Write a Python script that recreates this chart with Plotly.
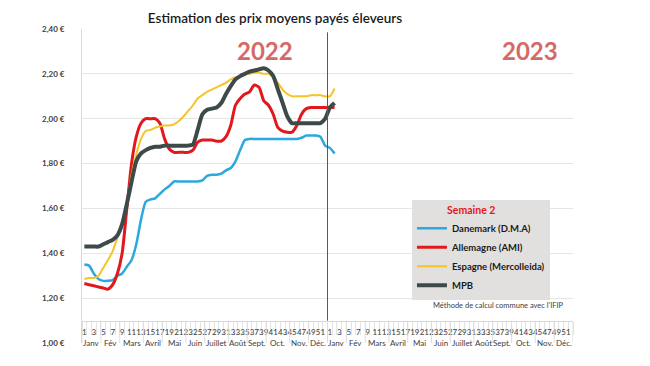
import plotly.graph_objects as go

# ---------------- data ----------------
years = ["2022", "2023"]
weeks_per_year = 52
month_names = ["Janv", "Fév", "Mars", "Avril", "Mai", "Juin", "Juillet", "Août",
               "Sept.", "Oct.", "Nov.", "Déc."]
month_weeks = [4, 4, 5, 4, 5, 4, 5, 4, 4, 5, 4, 4]

y_ticks = [1.00, 1.20, 1.40, 1.60, 1.80, 2.00, 2.20, 2.40]
y_tick_labels = ["1,00 €", "1,20 €", "1,40 €", "1,60 €", "1,80 €", "2,00 €", "2,20 €", "2,40 €"]

# weekly prices: 2022 weeks 1-52, then 2023 weeks 1-2
danemark = [1.35, 1.345, 1.31, 1.285, 1.277, 1.277, 1.28, 1.30, 1.31, 1.34,
            1.37, 1.44, 1.55, 1.63, 1.64, 1.645, 1.665, 1.685, 1.70, 1.72,
            1.72, 1.72, 1.72, 1.72, 1.72, 1.725, 1.745, 1.75, 1.75, 1.755,
            1.77, 1.78, 1.81, 1.86, 1.905, 1.91, 1.91, 1.91, 1.91, 1.91,
            1.91, 1.91, 1.91, 1.91, 1.91, 1.91, 1.915, 1.925, 1.925, 1.925,
            1.92, 1.88,
            1.87, 1.845]
allemagne = [1.265, 1.26, 1.255, 1.25, 1.245, 1.24, 1.26, 1.31, 1.40, 1.60,
             1.80, 1.92, 1.98, 2.00, 2.00, 2.00, 1.98, 1.91, 1.865, 1.85,
             1.85, 1.85, 1.85, 1.86, 1.895, 1.905, 1.905, 1.905, 1.90, 1.90,
             1.92, 1.97, 2.06, 2.09, 2.11, 2.12, 2.15, 2.14, 2.08, 2.06,
             2.02, 1.96, 1.945, 1.94, 1.94, 1.97, 2.02, 2.045, 2.05, 2.05,
             2.05, 2.05,
             2.05, 2.05]
espagne = [1.285, 1.29, 1.29, 1.30, 1.335, 1.37, 1.41, 1.47, 1.535, 1.62,
           1.75, 1.84, 1.91, 1.945, 1.95, 1.96, 1.965, 1.97, 1.97, 1.975,
           1.99, 2.01, 2.035, 2.06, 2.09, 2.105, 2.12, 2.13, 2.14, 2.15,
           2.16, 2.175, 2.185, 2.19, 2.20, 2.20, 2.205, 2.205, 2.20, 2.20,
           2.185, 2.16, 2.13, 2.11, 2.10, 2.10, 2.10, 2.10, 2.105, 2.105,
           2.105, 2.10,
           2.10, 2.135]
mpb = [1.43, 1.43, 1.43, 1.43, 1.44, 1.45, 1.46, 1.48, 1.53, 1.62,
       1.72, 1.81, 1.845, 1.86, 1.87, 1.875, 1.875, 1.88, 1.88, 1.88,
       1.88, 1.88, 1.88, 1.885, 1.95, 2.02, 2.04, 2.045, 2.05, 2.07,
       2.11, 2.145, 2.175, 2.19, 2.20, 2.21, 2.215, 2.22, 2.225, 2.215,
       2.19, 2.13, 2.07, 2.01, 1.98, 1.98, 1.98, 1.98, 1.98, 1.98,
       1.98, 2.00,
       2.05, 2.07]

series_names = ["Danemark (D.M.A)", "Allemagne (AMI)", "Espagne (Mercolleida)", "MPB"]
series_values = [danemark, allemagne, espagne, mpb]
series_colors = ["#2BA8DE", "#E2191C", "#F7C427", "#3E4A4A"]
series_widths = [2.5, 3, 2, 4]

legend_title = "Semaine 2"
note_text = "Méthode de calcul commune avec l'IFIP"
title_text = "Estimation des prix moyens payés éleveurs"

# ---------------- figure ----------------
# page body has an 8px default margin: figure is sized to fill the 650x366 window
FIG_W, FIG_H = 642, 358

n_cat = weeks_per_year * len(years)
positions = list(range(1, n_cat + 1))
week_labels = [str((p - 1) % weeks_per_year + 1) for p in positions]

FONT = "Lato, 'Open Sans', sans-serif"
fig = go.Figure()
for name, vals, col, w in zip(series_names, series_values, series_colors, series_widths):
    fig.add_trace(go.Scatter(
        x=positions[:len(vals)], y=vals, name=name, mode="lines",
        line=dict(color=col, width=w, shape="spline", smoothing=0.6),
        hoverinfo="skip"))

axis_cross = 1.10
y_min, y_max = y_ticks[0], y_ticks[-1]

# month labels (second category level) and separators
annotations = []
shapes = []
for yi in range(len(years)):
    start = yi * weeks_per_year
    for m, nw in zip(month_names, month_weeks):
        annotations.append(dict(x=start + 0.5 + nw / 2, y=y_min, xref="x", yref="y",
                                text=m, showarrow=False, xanchor="center", yanchor="middle",
                                font=dict(size=8, color="#404040", family=FONT)))
        shapes.append(dict(type="line", xref="x", yref="y", x0=start + 0.5, x1=start + 0.5,
                           y0=y_min - 0.01, y1=axis_cross, line=dict(color="#DDDDDD", width=1)))
        start += nw
    shapes.append(dict(type="line", xref="x", yref="y", x0=start + 0.5, x1=start + 0.5,
                       y0=y_min - 0.01, y1=axis_cross, line=dict(color="#DDDDDD", width=1)))

# year separator
shapes.append(dict(type="line", xref="x", yref="y", x0=weeks_per_year + 0.5, x1=weeks_per_year + 0.5,
                   y0=axis_cross, y1=2.385, line=dict(color="#595959", width=1)))

for yi, yr in enumerate(years):
    annotations.append(dict(x=[0.373, 0.912][yi], y=0.93, xref="paper", yref="paper",
                            text="<b>%s</b>" % yr, showarrow=False,
                            xanchor="center", yanchor="middle",
                            font=dict(size=24, color="#D46A66", family=FONT)))

annotations.append(dict(x=0.71, y=0.118, xref="paper", yref="paper", text=note_text,
                        showarrow=False, xanchor="left", yanchor="middle",
                        font=dict(size=7.5, color="#404040", family=FONT)))

fig.update_layout(
    width=FIG_W, height=FIG_H,
    margin=dict(l=74, r=FIG_W - 74 - 491, t=21, b=FIG_H - 21 - 314, autoexpand=False),
    paper_bgcolor="white", plot_bgcolor="white",
    font=dict(family=FONT),
    title=dict(text=title_text, x=267 / FIG_W, xanchor="center", xref="container",
               y=1 - 10 / FIG_H, yanchor="middle", yref="container",
               font=dict(size=13.5, color="#1a1a1a", family=FONT, weight=600)),
    xaxis=dict(range=[0.5, n_cat + 0.5], anchor="free", automargin=False,
               position=(axis_cross - y_min) / (y_max - y_min),
               showline=True, linecolor="#D9D9D9", linewidth=1, showgrid=False, zeroline=False,
               tickmode="array", tickvals=positions[::2], ticktext=week_labels[::2],
               ticks="", tickangle=0, ticklabelstandoff=4,
               tickfont=dict(size=8, color="#404040", family=FONT),
               minor=dict(ticks="outside", tickmode="linear", tick0=0.5, dtick=1,
                          ticklen=13, tickcolor="#E3E3E3", showgrid=False)),
    yaxis=dict(range=[y_min, y_max], tickmode="array", tickvals=y_ticks, ticktext=y_tick_labels,
               automargin=False,
               showgrid=True, gridcolor="#E6E6E6", gridwidth=1, zeroline=False,
               showline=True, linecolor="#D9D9D9", linewidth=1, ticks="",
               ticklabelstandoff=15,
               tickfont=dict(size=8, color="#404040", family=FONT, weight="bold")),
    showlegend=True,
    legend=dict(x=0.672, y=0.455, xanchor="left", yanchor="top", xref="paper", yref="paper",
                bgcolor="#E2E0DE", borderwidth=0, itemwidth=30, tracegroupgap=0,
                font=dict(size=9.5, color="#1a1a1a", family=FONT, weight="bold"),
                title=dict(text="\u00a0" * 13 + legend_title, side="top",
                           font=dict(size=10.5, color="#E2191C", family=FONT, weight="bold"))),
    annotations=annotations,
    shapes=shapes,
)

fig.write_html("out.html")
